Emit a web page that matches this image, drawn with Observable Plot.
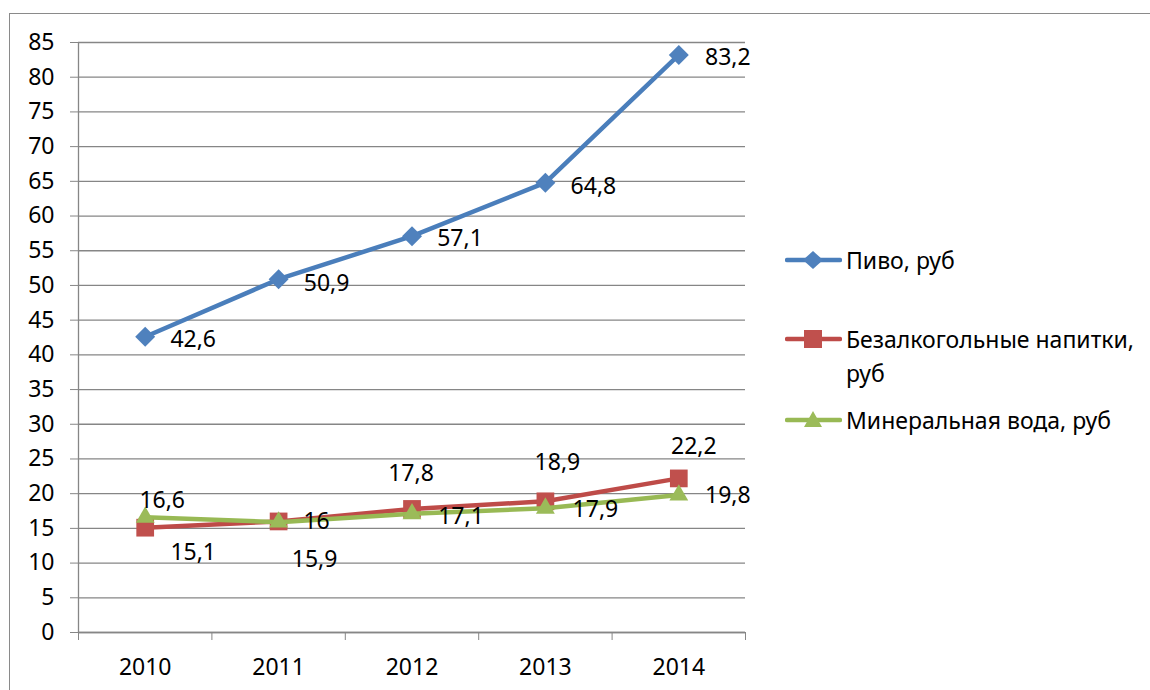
<!DOCTYPE html>
<html><head><meta charset="utf-8">
<script src="https://cdn.jsdelivr.net/npm/d3@7"></script>
<script src="https://cdn.jsdelivr.net/npm/@observablehq/plot@0.6"></script>
<style>
body{margin:0;background:#fff;font-family:"Noto Sans",sans-serif;}
#wrap{position:relative;width:1150px;height:690px;overflow:hidden;background:#fff;}
#frame{position:absolute;left:9px;top:13px;width:1300px;height:900px;border:1.5px solid #8a8a8a;box-sizing:border-box;}
#chart{position:absolute;left:0;top:0;}
.item{position:absolute;left:785px;display:flex;align-items:flex-start;font-size:23px;color:#000;line-height:34px;}
.item svg{flex:none;margin-top:5px;margin-right:4px;}
</style></head>
<body>
<div id="wrap"><div id="frame"></div><div id="chart"></div><div id="legend"></div></div>
<script>
const years = [2010, 2011, 2012, 2013, 2014];
const seriesNames = ["Пиво, руб", "Безалкогольные напитки, руб", "Минеральная вода, руб"];
const beer = [42.6, 50.9, 57.1, 64.8, 83.2];
const softDrinks = [15.1, 16, 17.8, 18.9, 22.2];
const mineralWater = [16.6, 15.9, 17.1, 17.9, 19.8];
const yTicks = [0, 5, 10, 15, 20, 25, 30, 35, 40, 45, 50, 55, 60, 65, 70, 75, 80, 85];

// styling / layout (not data)
const lineColors = ["#4A7EBB", "#BE4B48", "#98B954"];
const markerColors = ["#4F81BD", "#C0504D", "#9BBB59"];
const symbols = ["diamond2", "square", "triangle"];
const symbolR = [9, 10, 7];
const labelOffsets = [
  [[48,3],[48,4],[48,2],[48,4],[49,3]],
  [[48,25],[38,0],[-1,-35],[12,-39],[15,-32]],
  [[17,-17],[36,37],[49,3],[50,1],[49,1]]
];

const allValues = [beer, softDrinks, mineralWater];
const data = allValues.map((vals, s) => years.map((yr, i) => ({series: seriesNames[s], year: yr, value: vals[i], s, i})));
const boundaries = years.map(y => y - 0.5).concat([years[years.length - 1] + 0.5]);
const gray = "#868686";
const fmt = v => String(v).replace(".", ",");

const marks = [
  Plot.gridY(yTicks, {stroke: gray, strokeOpacity: 1, strokeWidth: 1.3}),
  Plot.ruleX([boundaries[0]], {stroke: gray, strokeWidth: 1.3}),
  Plot.ruleY([0], {stroke: gray, strokeWidth: 1.3}),
  Plot.axisY({ticks: yTicks, tickSize: 8, tickPadding: 16, stroke: gray, fill: "#000", fontSize: 23, tickFormat: d => String(d), label: null}),
  Plot.axisX({ticks: boundaries, tickSize: 8, stroke: gray, tickFormat: () => "", label: null}),
  Plot.axisX({ticks: years, tickSize: 0, tickPadding: 26, fill: "#000", fontSize: 23, tickFormat: d => String(d), label: null})
];
data.forEach((rows, s) => {
  marks.push(Plot.line(rows, {x: "year", y: "value", stroke: lineColors[s], strokeWidth: 4.5, strokeLinejoin: "round", strokeLinecap: "round"}));
  marks.push(Plot.dot(rows, {x: "year", y: "value", symbol: () => symbols[s], r: symbolR[s], fill: markerColors[s], stroke: "none"}));
});
data.forEach((rows, s) => {
  rows.forEach((d, i) => {
    const [dx, dy] = labelOffsets[s][i];
    marks.push(Plot.text([d], {x: "year", y: "value", text: d => fmt(d.value), dx, dy, fontSize: 23, fill: "#000", textAnchor: "middle"}));
  });
});

const chart = Plot.plot({
  width: 760,
  height: 690,
  marginLeft: 78,
  marginRight: 15,
  marginTop: 42,
  marginBottom: 58,
  style: {fontFamily: '"Noto Sans", sans-serif', background: "transparent", overflow: "visible"},
  x: {type: "linear", domain: [boundaries[0], boundaries[boundaries.length - 1]], axis: null},
  y: {domain: [0, 85], axis: null},
  symbol: {type: "identity"},
  marks
});
document.getElementById("chart").appendChild(chart);

// legend
const legendTops = [243, 322, 403];
const legend = document.getElementById("legend");
const shapes = [
  c => `<polygon points="28,3 38,12 28,21 18,12" fill="${c}"/>`,
  c => `<rect x="19" y="3" width="18" height="18" fill="${c}"/>`,
  c => `<polygon points="28,3 37,19 19,19" fill="${c}"/>`
];
seriesNames.forEach((name, s) => {
  const div = document.createElement("div");
  div.className = "item";
  div.style.top = legendTops[s] + "px";
  const label = s === 1 ? "Безалкогольные напитки,<br>руб" : name;
  div.innerHTML = `<svg width="57" height="24"><line x1="2" y1="12" x2="55" y2="12" stroke="${lineColors[s]}" stroke-width="4.5" stroke-linecap="round"/>${shapes[s](markerColors[s])}</svg><span>${label}</span>`;
  legend.appendChild(div);
});
</script>
</body></html>
